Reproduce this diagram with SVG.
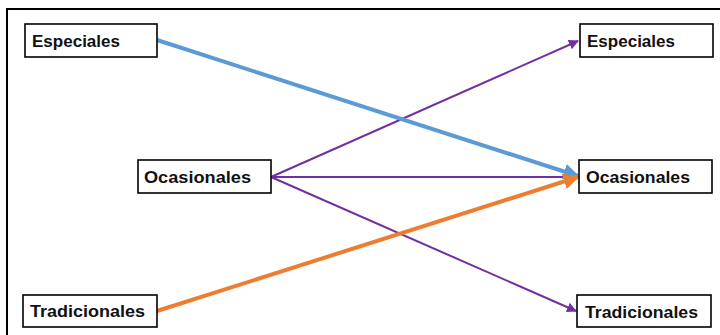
<svg xmlns="http://www.w3.org/2000/svg" width="720" height="335" viewBox="0 0 720 335">
<defs>
<style>
.box{fill:#fff;stroke:#000;stroke-width:1.6}
.lbl{font-family:"Liberation Sans",Arial,sans-serif;font-weight:bold;font-size:17px;fill:#111}
.blue{stroke:#5b9bd5;stroke-width:4;fill:none}
.orange{stroke:#ed7d31;stroke-width:4;fill:none}
.purple{stroke:#7030a0;stroke-width:2;fill:none}
</style>
<marker id="ab" viewBox="0 0 10 10" refX="9" refY="5" markerWidth="4" markerHeight="4" orient="auto" markerUnits="strokeWidth"><path d="M0,0 L10,5 L0,10 z" fill="#5b9bd5"/></marker>
<marker id="ao" viewBox="0 0 10 10" refX="9" refY="5" markerWidth="4" markerHeight="4" orient="auto" markerUnits="strokeWidth"><path d="M0,0 L10,5 L0,10 z" fill="#ed7d31"/></marker>
<marker id="ap" viewBox="0 0 10 10" refX="9" refY="5" markerWidth="5" markerHeight="5" orient="auto" markerUnits="strokeWidth"><path d="M0,0 L10,5 L0,10 z" fill="#7030a0"/></marker>
</defs>
<rect x="0" y="0" width="720" height="335" fill="#fff"/>
<rect x="7" y="9" width="730" height="340" fill="none" stroke="#000" stroke-width="2"/>
<g id="connectors">
<line class="purple" x1="271" y1="177" x2="578" y2="41" marker-end="url(#ap)"/>
<line class="purple" x1="271" y1="177" x2="577" y2="177" marker-end="url(#ap)"/>
<line class="purple" x1="271" y1="177" x2="576" y2="311" marker-end="url(#ap)"/>
<line class="blue" x1="157" y1="40" x2="578" y2="176" marker-end="url(#ab)"/>
<line class="orange" x1="157" y1="311" x2="578" y2="177" marker-end="url(#ao)"/>
</g>
<g id="esp-left"><rect class="box" x="25" y="24" width="132" height="33"/><text class="lbl" x="32" y="47" textLength="88" lengthAdjust="spacingAndGlyphs">Especiales</text></g>
<g id="oca-mid"><rect class="box" x="138" y="160" width="133" height="33"/><text class="lbl" x="144" y="183" textLength="107" lengthAdjust="spacingAndGlyphs">Ocasionales</text></g>
<g id="tra-left"><rect class="box" x="23" y="295" width="134" height="32"/><text class="lbl" x="30" y="317" textLength="115" lengthAdjust="spacingAndGlyphs">Tradicionales</text></g>
<g id="esp-right"><rect class="box" x="580" y="24" width="133" height="33"/><text class="lbl" x="587" y="47" textLength="88" lengthAdjust="spacingAndGlyphs">Especiales</text></g>
<g id="oca-right"><rect class="box" x="579" y="160" width="133" height="33"/><text class="lbl" x="586" y="183" textLength="104" lengthAdjust="spacingAndGlyphs">Ocasionales</text></g>
<g id="tra-right"><rect class="box" x="577" y="295" width="134" height="32"/><text class="lbl" x="585" y="318" textLength="113" lengthAdjust="spacingAndGlyphs">Tradicionales</text></g>
</svg>
